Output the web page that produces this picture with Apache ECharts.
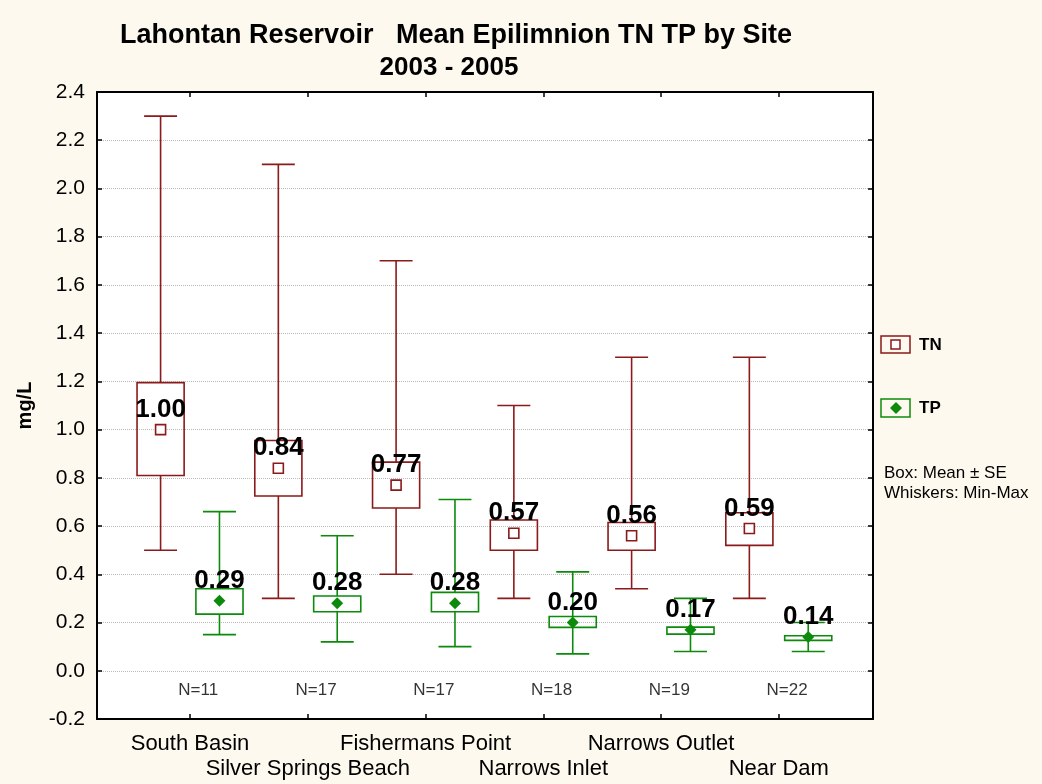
<!DOCTYPE html>
<html>
<head>
<meta charset="utf-8">
<title>Lahontan Reservoir Mean Epilimnion TN TP by Site</title>
<script src="https://cdn.jsdelivr.net/npm/echarts@6/dist/echarts.min.js"></script>
<style>
  html, body { margin: 0; padding: 0; background: #fdf9ee; }
  #chart { width: 1042px; height: 784px; }
</style>
</head>
<body>
<div id="chart"></div>
<script>
// Sites and sample counts
const sites = ["South Basin", "Silver Springs Beach", "Fishermans Point", "Narrows Inlet", "Narrows Outlet", "Near Dam"];
const nCounts = [11, 17, 17, 18, 19, 22];

// TN (mg/L): min, mean - SE, mean, mean + SE, max
const tnMin = [0.50, 0.30, 0.40, 0.30, 0.34, 0.30];
const tnLow = [0.81, 0.725, 0.675, 0.50, 0.50, 0.52];
const tnMean = [1.00, 0.84, 0.77, 0.57, 0.56, 0.59];
const tnHigh = [1.195, 0.955, 0.865, 0.625, 0.615, 0.655];
const tnMax = [2.30, 2.10, 1.70, 1.10, 1.30, 1.30];

// TP (mg/L)
const tpMin = [0.15, 0.12, 0.10, 0.07, 0.08, 0.08];
const tpLow = [0.235, 0.245, 0.245, 0.18, 0.152, 0.126];
const tpMean = [0.29, 0.28, 0.28, 0.20, 0.17, 0.14];
const tpHigh = [0.34, 0.31, 0.325, 0.225, 0.181, 0.145];
const tpMax = [0.66, 0.56, 0.71, 0.41, 0.30, 0.20];

const yTicks = { min: -0.2, max: 2.4, step: 0.2 };

const TN_COLOR = "#8b1a1a";
const TP_COLOR = "#0c8a0c";
const FONT = "'Liberation Sans', Arial, sans-serif";
const sitePos = sites.map((s, i) => i + 1);
// site names alternate between two rows under the axis
const rowOnePos = sitePos.filter((p) => p % 2 === 1);
const rowTwoPos = sitePos.filter((p) => p % 2 === 0);
const xRange = { min: 0.21, max: 6.8 };

// box + whiskers drawn through the axes' own scales
function renderBox(color) {
  return function (params, api) {
    const x = api.value(0);
    const pMin = api.coord([x, api.value(1)]);
    const pLow = api.coord([x, api.value(2)]);
    const pHigh = api.coord([x, api.value(3)]);
    const pMax = api.coord([x, api.value(4)]);
    const boxW = api.size([0.4, 0])[0];
    const capW = api.size([0.28, 0])[0];
    const style = { stroke: color, lineWidth: 1.6, fill: "none" };
    const line = (x1, y1, x2, y2) => ({ type: "line", shape: { x1, y1, x2, y2 }, style });
    return {
      type: "group",
      children: [
        line(pMax[0], pMax[1], pHigh[0], pHigh[1]),
        line(pLow[0], pLow[1], pMin[0], pMin[1]),
        line(pMax[0] - capW / 2, pMax[1], pMax[0] + capW / 2, pMax[1]),
        line(pMin[0] - capW / 2, pMin[1], pMin[0] + capW / 2, pMin[1]),
        {
          type: "rect",
          shape: { x: pHigh[0] - boxW / 2, y: pHigh[1], width: boxW, height: pLow[1] - pHigh[1] },
          style,
        },
      ],
    };
  };
}

function boxData(offset, mins, lows, highs, maxs) {
  return sitePos.map((p, i) => [p + offset, mins[i], lows[i], highs[i], maxs[i]]);
}

function siteAxis(position, opts) {
  return Object.assign(
    {
      type: "value",
      position: position,
      min: xRange.min,
      max: xRange.max,
      splitLine: { show: false },
      axisLine: { show: false, onZero: false },
      axisTick: { show: false },
      axisLabel: { show: false },
    },
    opts
  );
}

function siteLabels(positions, margin) {
  return {
    customValues: positions,
    showMinLabel: true,
    showMaxLabel: true,
    formatter: (v) => sites[Math.round(v) - 1],
    fontFamily: FONT,
    fontSize: 22,
    color: "#000",
    margin: margin,
  };
}

const frameLine = { show: true, onZero: false, lineStyle: { color: "#000", width: 2 } };
const siteTicks = { show: true, customValues: sitePos, inside: true, length: 5, lineStyle: { color: "#000", width: 1.5 } };

const meanLabel = {
  show: true,
  position: "inside",
  offset: [0, -20],
  formatter: (p) => p.value[1].toFixed(2),
  fontFamily: FONT,
  fontSize: 26,
  fontWeight: "bold",
  color: "#000",
};

const chartDom = document.getElementById("chart");
const myChart = echarts.init(chartDom, null, { renderer: "canvas" });

const option = {
  animation: false,
  backgroundColor: "#fdf9ee",
  textStyle: { fontFamily: FONT },
  title: [
    {
      text: "Lahontan Reservoir   Mean Epilimnion TN TP by Site",
      left: 451,
      top: 17,
      textAlign: "center",
      textStyle: { fontFamily: FONT, fontSize: 27, fontWeight: "bold", color: "#000" },
    },
    {
      text: "2003 - 2005",
      left: 444,
      top: 50,
      textAlign: "center",
      textStyle: { fontFamily: FONT, fontSize: 26, fontWeight: "bold", color: "#000" },
    },
  ],
  grid: { left: 97, right: 169, top: 92, bottom: 65, show: true, backgroundColor: "#fff", borderWidth: 0 },
  xAxis: [
    siteAxis("bottom", { axisLine: frameLine, axisTick: siteTicks }),
    siteAxis("bottom", { axisLabel: siteLabels(rowOnePos, 14) }),
    siteAxis("bottom", { axisLabel: siteLabels(rowTwoPos, 39) }),
    siteAxis("top", { axisLine: frameLine, axisTick: siteTicks }),
  ],
  yAxis: [
    {
      type: "value",
      position: "left",
      min: yTicks.min,
      max: yTicks.max,
      interval: yTicks.step,
      name: "mg/L",
      nameLocation: "middle",
      nameRotate: 90,
      nameGap: 62,
      nameTextStyle: { fontFamily: FONT, fontSize: 20, fontWeight: "bold", color: "#000" },
      axisLine: frameLine,
      axisTick: { show: true, inside: true, length: 5, lineStyle: { color: "#000", width: 1.5 } },
      axisLabel: {
        formatter: (v) => v.toFixed(1),
        fontFamily: FONT,
        fontSize: 21,
        color: "#000",
        margin: 12,
      },
      splitLine: { show: true, lineStyle: { type: "dotted", color: "#bbb", width: 1 } },
    },
    {
      type: "value",
      position: "right",
      min: yTicks.min,
      max: yTicks.max,
      interval: yTicks.step,
      axisLine: frameLine,
      axisTick: { show: true, inside: true, length: 5, lineStyle: { color: "#000", width: 1.5 } },
      axisLabel: { show: false },
      splitLine: { show: false },
    },
  ],
  graphic: [
    { type: "rect", shape: { x: 881, y: 336, width: 29, height: 17 }, style: { stroke: TN_COLOR, lineWidth: 1.5, fill: "none" } },
    { type: "rect", shape: { x: 891, y: 340, width: 9, height: 9 }, style: { stroke: TN_COLOR, lineWidth: 1.5, fill: "#fff" } },
    { type: "text", x: 919, y: 345, style: { text: "TN", font: "bold 17px " + FONT, fill: "#000", verticalAlign: "middle" } },
    { type: "rect", shape: { x: 881, y: 399, width: 29, height: 18 }, style: { stroke: TP_COLOR, lineWidth: 1.5, fill: "none" } },
    { type: "polygon", shape: { points: [[896, 402], [902, 408], [896, 414], [890, 408]] }, style: { fill: TP_COLOR } },
    { type: "text", x: 919, y: 408, style: { text: "TP", font: "bold 17px " + FONT, fill: "#000", verticalAlign: "middle" } },
    { type: "text", x: 884, y: 473, style: { text: "Box: Mean ± SE", font: "17px " + FONT, fill: "#000", verticalAlign: "middle" } },
    { type: "text", x: 884, y: 493, style: { text: "Whiskers: Min-Max", font: "17px " + FONT, fill: "#000", verticalAlign: "middle" } },
  ],
  series: [
    {
      name: "TN box",
      type: "custom",
      renderItem: renderBox(TN_COLOR),
      encode: { x: 0, y: [1, 2, 3, 4] },
      data: boxData(-0.25, tnMin, tnLow, tnHigh, tnMax),
      z: 2,
    },
    {
      name: "TP box",
      type: "custom",
      renderItem: renderBox(TP_COLOR),
      encode: { x: 0, y: [1, 2, 3, 4] },
      data: boxData(0.25, tpMin, tpLow, tpHigh, tpMax),
      z: 2,
    },
    {
      name: "TN",
      type: "scatter",
      symbol: "rect",
      symbolSize: 10,
      itemStyle: { color: "#fff", borderColor: TN_COLOR, borderWidth: 1.6, opacity: 1 },
      data: sitePos.map((p, i) => [p - 0.25, tnMean[i]]),
      label: meanLabel,
      z: 3,
    },
    {
      name: "TP",
      type: "scatter",
      symbol: "diamond",
      symbolSize: 12,
      itemStyle: { color: TP_COLOR, opacity: 1 },
      data: sitePos.map((p, i) => [p + 0.25, tpMean[i]]),
      label: meanLabel,
      z: 3,
    },
    {
      name: "N",
      type: "scatter",
      symbolSize: 0,
      data: sitePos.map((p, i) => [p + 0.07, -0.08]),
      label: {
        show: true,
        position: "inside",
        formatter: (p) => "N=" + nCounts[p.dataIndex],
        fontFamily: FONT,
        fontSize: 17,
        color: "#000",
      },
      silent: true,
      z: 3,
    },
  ],
};

myChart.setOption(option);

window.addEventListener("resize", function () {
  myChart.resize();
});
</script>
</body>
</html>
